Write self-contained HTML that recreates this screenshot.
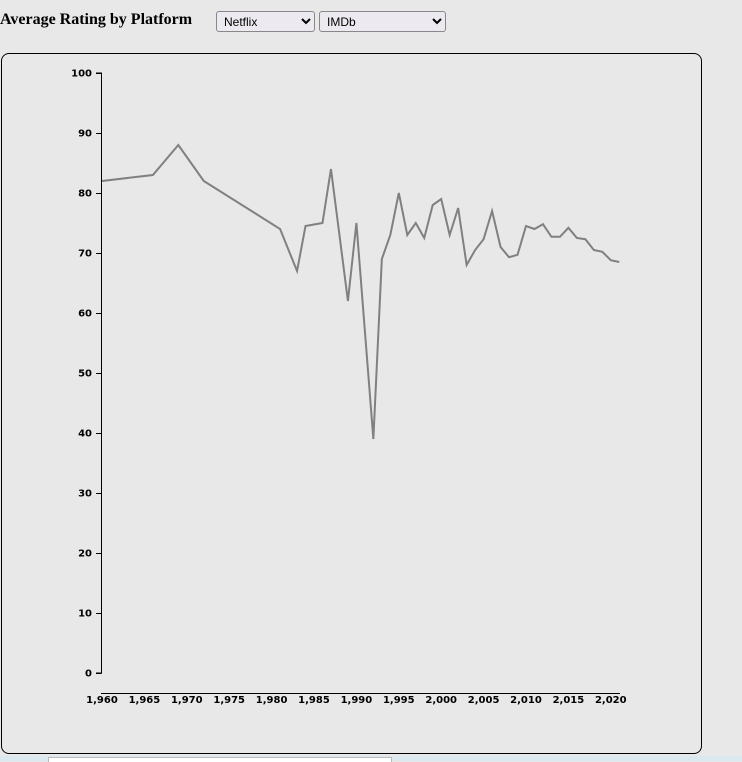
<!DOCTYPE html>
<html><head><meta charset="utf-8"><style>
body{margin:0;background:#e8e8e8;width:742px;height:761px;overflow:hidden;position:relative;font-family:"Liberation Sans",sans-serif}
#title{position:absolute;left:0;top:11px;font-family:"Liberation Serif",serif;font-weight:bold;font-size:16px;color:#000}
select{position:absolute;top:11px;height:21px;font-size:12px;border:1px solid #888;border-radius:3px;background:#eceaf0;padding:0 3px;font-family:"Liberation Sans",sans-serif}
#frame{position:absolute;left:1px;top:53px;width:699px;height:699px;border:1px solid #000;border-radius:8px}
#strip{position:absolute;left:0;top:756px;width:742px;height:5px;background:#dce8f0}
#strip2{position:absolute;left:48px;top:757px;width:342px;height:4px;background:#fff;border:1px solid #bbb;border-bottom:none}
</style></head><body>
<div id="title">Average Rating by Platform</div>
<select style="left:216px;width:99px"><option>Netflix</option></select>
<select style="left:319px;width:127px"><option>IMDb</option></select>
<div id="frame"></div>
<div id="strip"></div>
<div id="strip2"></div>
<svg id="chart" width="742" height="761" style="position:absolute;left:0;top:0"></svg>
<script>
const years=[1960,1966,1969,1972,1981,1983,1984,1986,1987,1989,1990,1992,1993,1994,1995,1996,1997,1998,1999,2000,2001,2002,2003,2004,2005,2006,2007,2008,2009,2010,2011,2012,2013,2014,2015,2016,2017,2018,2019,2020,2021];
const ratings=[82,83,88,82,74,67,74.5,75,84,62,75,39,69,73,80,73,75,72.5,78,79,73,77.5,68,70.5,72.3,77,71,69.3,69.7,74.5,74,74.8,72.7,72.7,74.2,72.5,72.3,70.5,70.2,68.8,68.5];
const yTicks=[0,10,20,30,40,50,60,70,80,90,100];
const xTicks=[1960,1965,1970,1975,1980,1985,1990,1995,2000,2005,2010,2015,2020];
const ns="http://www.w3.org/2000/svg",svg=document.getElementById('chart');
const x=v=>102+(v-1960)*8.48, y=v=>673-v*6;
function mk(t,a){const e=document.createElementNS(ns,t);for(const k in a)e.setAttribute(k,a[k]);svg.appendChild(e);return e;}
let ax=mk('path',{d:`M96,${y(100)}H101.5V${y(0)}H96`,stroke:'#000',fill:'none','stroke-width':1});


yTicks.forEach(v=>{
 let l=mk('line',{x1:96,x2:101.5,y1:y(v)+.5,y2:y(v)+.5,stroke:'#000'});
 
 
 let t=mk('text',{x:92,y:y(v)+3.5,'text-anchor':'end','font-size':'10','font-weight':'bold','font-family':'DejaVu Sans, sans-serif'});
 t.textContent=v;
 
 
});
let xa=mk('line',{x1:101,x2:620,y1:693.5,y2:693.5,stroke:'#000'});


xTicks.forEach(v=>{
 let t=mk('text',{x:x(v),y:703,'text-anchor':'middle','font-size':'10','font-weight':'bold','font-family':'DejaVu Sans, sans-serif'});
 t.textContent=v.toLocaleString('en-US');
 
 
});
let p=mk('path',{d:years.map((yr,i)=>(i?'L':'M')+x(yr)+','+y(ratings[i])).join(''),fill:'none',stroke:'#808080','stroke-width':2});


</script>
</body></html>
